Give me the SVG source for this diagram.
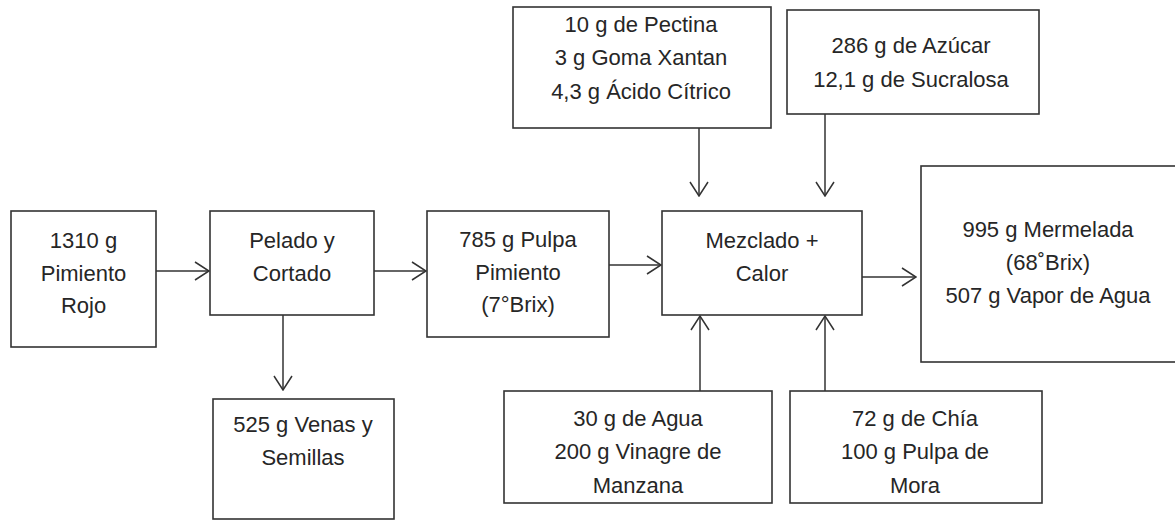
<svg xmlns="http://www.w3.org/2000/svg" width="1175" height="520" viewBox="0 0 1175 520">
<style>
.box{fill:#fff;stroke:#333;stroke-width:1.6}
.t{font-family:"Liberation Sans",Arial,sans-serif;font-size:22px;fill:#262626;text-anchor:middle}
.c{fill:none;stroke:#333;stroke-width:1.5}
</style>
<defs>
<marker id="ah" markerUnits="userSpaceOnUse" viewBox="0 0 16 20" refX="15" refY="10" markerWidth="16" markerHeight="20" orient="auto">
<path d="M1,1 L15,10 L1,19" fill="none" stroke="#333" stroke-width="1.5"/>
</marker>
</defs>
<rect width="1175" height="520" fill="#fff"/>
<g id="n1"><rect class="box" x="11" y="211" width="145" height="136"/>
<text class="t" x="83.5" y="248">1310 g</text><text class="t" x="83.5" y="281">Pimiento</text><text class="t" x="83.5" y="313">Rojo</text></g>
<g id="n2"><rect class="box" x="210" y="211" width="164" height="104"/>
<text class="t" x="292" y="248">Pelado y</text><text class="t" x="292" y="281">Cortado</text></g>
<g id="n3"><rect class="box" x="427" y="211" width="182" height="126"/>
<text class="t" x="518" y="247">785 g Pulpa</text><text class="t" x="518" y="280">Pimiento</text><text class="t" x="518" y="312">(7°Brix)</text></g>
<g id="n4"><rect class="box" x="662" y="211" width="200" height="104"/>
<text class="t" x="762" y="248">Mezclado +</text><text class="t" x="762" y="281">Calor</text></g>
<g id="n5"><rect class="box" x="921" y="166" width="256" height="196"/>
<text class="t" x="1048" y="237">995 g Mermelada</text><text class="t" x="1048" y="270">(68˚Brix)</text><text class="t" x="1048" y="303">507 g Vapor de Agua</text></g>
<g id="n6"><rect class="box" x="513" y="7" width="258" height="121"/>
<text class="t" x="641" y="32">10 g de Pectina</text><text class="t" x="641" y="65">3 g Goma Xantan</text><text class="t" x="641" y="99">4,3 g Ácido Cítrico</text></g>
<g id="n7"><rect class="box" x="787" y="10" width="252" height="104"/>
<text class="t" x="911" y="53">286 g de Azúcar</text><text class="t" x="911" y="87">12,1 g de Sucralosa</text></g>
<g id="n8"><rect class="box" x="213" y="399" width="181" height="120"/>
<text class="t" x="303" y="432">525 g Venas y</text><text class="t" x="303" y="465">Semillas</text></g>
<g id="n9"><rect class="box" x="504" y="391" width="268" height="112"/>
<text class="t" x="638" y="426">30 g de Agua</text><text class="t" x="638" y="459">200 g Vinagre de</text><text class="t" x="638" y="493">Manzana</text></g>
<g id="n10"><rect class="box" x="790" y="391" width="252" height="112"/>
<text class="t" x="915" y="426">72 g de Chía</text><text class="t" x="915" y="459">100 g Pulpa de</text><text class="t" x="915" y="493">Mora</text></g>
<g id="connectors">
<line class="c" x1="156" y1="271" x2="209" y2="271" marker-end="url(#ah)"/>
<line class="c" x1="374" y1="271" x2="426" y2="271" marker-end="url(#ah)"/>
<line class="c" x1="609" y1="265" x2="661" y2="265" marker-end="url(#ah)"/>
<line class="c" x1="862" y1="277" x2="916" y2="277" marker-end="url(#ah)"/>
<line class="c" x1="699" y1="128" x2="699" y2="196" marker-end="url(#ah)"/>
<line class="c" x1="825" y1="114" x2="825" y2="196" marker-end="url(#ah)"/>
<line class="c" x1="700" y1="391" x2="700" y2="316" marker-end="url(#ah)"/>
<line class="c" x1="825" y1="391" x2="825" y2="316" marker-end="url(#ah)"/>
<line class="c" x1="283" y1="315" x2="283" y2="390" marker-end="url(#ah)"/>
</g>
</svg>
